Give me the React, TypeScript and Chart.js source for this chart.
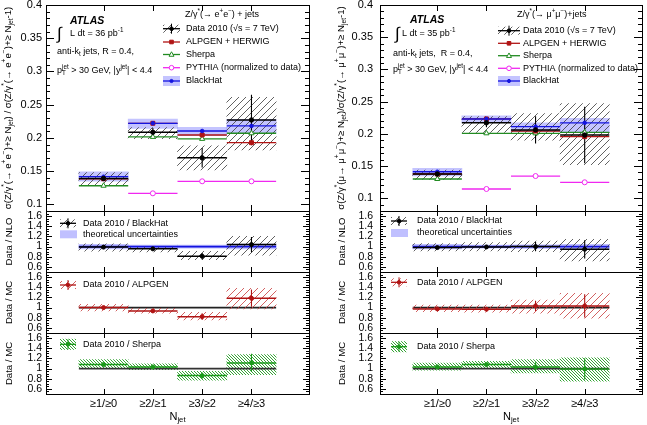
import React, { useEffect, useRef } from "react";
import { Chart, registerables } from "chart.js";
Chart.register(...registerables);

const W = 647;
const H = 425;
const FAMILY = '"Liberation Sans", Arial, Helvetica, sans-serif';

// ---------- categories and tick labels ----------
const BINS = ["≥1/≥0", "≥2/≥1", "≥3/≥2", "≥4/≥3"];
const MAIN_TICKS = [0.1, 0.15, 0.2, 0.25, 0.3, 0.35, 0.4];
const MAIN_TICK_LABELS = ["0.1", "0.15", "0.2", "0.25", "0.3", "0.35", "0.4"];
const RATIO_TICKS = [0.6, 0.8, 1, 1.2, 1.4, 1.6];
const RATIO_TICK_LABELS = ["0.6", "0.8", "1", "1.2", "1.4", "1.6"];

// ---------- Z -> e+e- (left) ----------
const eeData = [0.139, 0.2085, 0.17, 0.227];
const eeStat = [0.003, 0.0065, 0.0147, 0.038];
const eeSystLo = [0.128, 0.199, 0.152, 0.182];
const eeSystHi = [0.148, 0.2155, 0.188, 0.261];
const eeAlpgen = [0.1385, 0.222, 0.2044, 0.1928];
const eeSherpa = [0.128, 0.2015, 0.1985, 0.207];
const eePythia = [null, 0.1166, 0.1347, 0.1347];
const eeBlackHat = [0.1416, 0.222, 0.2104, 0.218];
const eeBlackHatLo = [0.135, 0.2144, 0.2033, 0.207];
const eeBlackHatHi = [0.149, 0.2284, 0.216, 0.228];

const eeNlo = [0.99, 0.955, 0.81, 1.04];
const eeNloStat = [0.015, 0.03, 0.066, 0.15];
const eeNloSystLo = [0.908, 0.895, 0.743, 0.829];
const eeNloSystHi = [1.053, 0.987, 0.908, 1.204];
const eeTheo = [0.046, 0.032, 0.031, 0.048];

const eeAlp = [1.0, 0.934, 0.822, 1.184];
const eeAlpStat = [0.015, 0.03, 0.065, 0.17];
const eeAlpSystLo = [0.934, 0.888, 0.757, 0.974];
const eeAlpSystHi = [1.066, 0.987, 0.908, 1.38];

const eeShp = [1.079, 1.033, 0.862, 1.112];
const eeShpStat = [0.015, 0.02, 0.06, 0.18];
const eeShpSystLo = [1.0, 0.98, 0.77, 0.882];
const eeShpSystHi = [1.178, 1.092, 0.947, 1.276];

// ---------- Z -> mu+mu- (right) ----------
const mmData = [0.1375, 0.217, 0.206, 0.198];
const mmStat = [0.003, 0.007, 0.021, 0.044];
const mmSystLo = [0.129, 0.202, 0.19, 0.152];
const mmSystHi = [0.1435, 0.2265, 0.2315, 0.247];
const mmAlpgen = [0.1375, 0.223, 0.2042, 0.1955];
const mmSherpa = [0.1297, 0.2007, 0.2007, 0.2022];
const mmPythia = [null, 0.1142, 0.1343, 0.1246];
const mmBlackHat = [0.141, 0.2229, 0.211, 0.217];
const mmBlackHatLo = [0.1343, 0.2171, 0.2031, 0.203];
const mmBlackHatHi = [0.1463, 0.228, 0.2171, 0.224];

const mmNlo = [0.98, 0.993, 1.0, 0.947];
const mmNloStat = [0.015, 0.03, 0.09, 0.18];
const mmNloSystLo = [0.914, 0.914, 0.9, 0.717];
const mmNloSystHi = [1.06, 1.08, 1.11, 1.145];
const mmTheo = [0.045, 0.03, 0.035, 0.045];

const mmAlp = [0.974, 0.967, 1.033, 1.033];
const mmAlpStat = [0.015, 0.03, 0.1, 0.23];
const mmAlpSystLo = [0.92, 0.91, 0.89, 0.79];
const mmAlpSystHi = [1.05, 1.05, 1.15, 1.28];

const mmShp = [1.033, 1.079, 1.033, 0.993];
const mmShpStat = [0.015, 0.03, 0.09, 0.21];
const mmShpSystLo = [0.967, 1.0, 0.914, 0.75];
const mmShpSystHi = [1.11, 1.145, 1.178, 1.21];

const ONE = [1, 1, 1, 1];

// ---------- styles ----------
const C_ALP = "#b01414";
const C_SHP = "#228b22";
const C_SHP_R = "#1a9a1a";
const C_PYT = "#f028f0";
const C_BH = "#1414e0";
const C_BAND = "rgba(100,100,255,0.38)";
const C_THEO = "rgba(150,150,255,0.6)";

type Pats = { black: any; red: any; green: any };

function hatch(color: string, size: number, dir: string, lw: number) {
  const c = document.createElement("canvas");
  c.width = size;
  c.height = size;
  const g = c.getContext("2d")!;
  g.strokeStyle = color;
  g.lineWidth = lw;
  g.beginPath();
  if (dir === "/") {
    g.moveTo(-1, size + 1);
    g.lineTo(size + 1, -1);
    g.moveTo(-1, 1);
    g.lineTo(1, -1);
    g.moveTo(size - 1, size + 1);
    g.lineTo(size + 1, size - 1);
  } else {
    g.moveTo(-1, -1);
    g.lineTo(size + 1, size + 1);
    g.moveTo(size - 1, -1);
    g.lineTo(size + 1, 1);
    g.moveTo(-1, size - 1);
    g.lineTo(1, size + 1);
  }
  g.stroke();
  return g.createPattern(c, "repeat");
}

function makePatterns(): Pats {
  return {
    black: hatch("#3a3a3a", 7, "/", 0.8),
    red: hatch("#c83a3a", 7, "/", 0.8),
    green: hatch("#1f9a1f", 3, "\\", 0.9),
  };
}

// ---------- dataset helpers ----------
function segs(vals: (number | null)[]) {
  const pts: any[] = [];
  vals.forEach((v, i) => {
    if (v == null) return;
    pts.push({ x: i - 0.5, y: v }, { x: i + 0.5, y: v }, { x: i + 0.5, y: null });
  });
  return pts;
}
function vbars(vals: number[], err: number[]) {
  const pts: any[] = [];
  vals.forEach((v, i) => {
    pts.push({ x: i, y: v - err[i] }, { x: i, y: v + err[i] }, { x: i, y: null });
  });
  return pts;
}
function bar(lo: number[], hi: number[], bg: any) {
  return {
    type: "bar",
    data: lo.map((l, i) => ({ x: i, y: [l, hi[i]] })),
    backgroundColor: bg,
    borderWidth: 0,
    grouped: false,
    barPercentage: 1,
    categoryPercentage: 1,
  };
}
function band(center: number[], half: number[], bg: any) {
  return bar(
    center.map((c, i) => c - half[i]),
    center.map((c, i) => c + half[i]),
    bg
  );
}
function line(data: any[], color: string, w: number) {
  return {
    type: "line",
    data,
    borderColor: color,
    borderWidth: w,
    pointRadius: 0,
    pointHitRadius: 0,
    fill: false,
    tension: 0,
    spanGaps: false,
  };
}
function pts(vals: (number | null)[], style: string, r: number, stroke: string, fill: string) {
  return {
    type: "line",
    data: vals.map((v, i) => (v == null ? null : { x: i, y: v })).filter(Boolean),
    showLine: false,
    pointStyle: style,
    pointRadius: r,
    pointBorderWidth: 1,
    pointBorderColor: stroke,
    pointBackgroundColor: fill,
    pointHitRadius: 0,
  };
}

// ---------- text helpers ----------
type Seg = [string, string?, string?];
function fontStr(size: number, weight = "normal", style = "normal") {
  return `${style} ${weight} ${size}px ${FAMILY}`;
}
function rich(ctx: CanvasRenderingContext2D, x: number, y: number, sg: Seg[], size: number, o: any = {}) {
  ctx.save();
  ctx.translate(x, y);
  if (o.rot) ctx.rotate(o.rot);
  ctx.textBaseline = "middle";
  ctx.textAlign = "left";
  ctx.fillStyle = o.color || "#000";
  const parts = sg.map(([t, m, t2]) => {
    const s = m ? size * 0.7 : size;
    ctx.font = fontStr(s, o.weight, o.style);
    let w = ctx.measureText(t).width;
    if (t2) w = Math.max(w, ctx.measureText(t2).width);
    return { t, m, t2, s, w };
  });
  const total = parts.reduce((a, p) => a + p.w, 0);
  let cx = o.align === "center" ? -total / 2 : o.align === "right" ? -total : 0;
  for (const p of parts) {
    ctx.font = fontStr(p.s, o.weight, o.style);
    if (p.m === "^") {
      ctx.fillText(p.t, cx, -size * 0.38);
      if (p.t2) ctx.fillText(p.t2, cx, size * 0.3);
    } else if (p.m === "_") {
      ctx.fillText(p.t, cx, size * 0.3);
    } else {
      ctx.fillText(p.t, cx, 0);
    }
    cx += p.w;
  }
  ctx.restore();
}

function hl(ctx: CanvasRenderingContext2D, x0: number, x1: number, y: number, c: string, w: number) {
  ctx.strokeStyle = c;
  ctx.lineWidth = w;
  ctx.beginPath();
  ctx.moveTo(x0, y);
  ctx.lineTo(x1, y);
  ctx.stroke();
}
function vl(ctx: CanvasRenderingContext2D, x: number, y0: number, y1: number, c: string, w: number) {
  ctx.strokeStyle = c;
  ctx.lineWidth = w;
  ctx.beginPath();
  ctx.moveTo(x, y0);
  ctx.lineTo(x, y1);
  ctx.stroke();
}
function mk(ctx: CanvasRenderingContext2D, style: string, x: number, y: number, r: number, stroke: string, fill: string) {
  ctx.beginPath();
  if (style === "circle") ctx.arc(x, y, r, 0, Math.PI * 2);
  else if (style === "rect") ctx.rect(x - r, y - r, 2 * r, 2 * r);
  else {
    ctx.moveTo(x, y - r * 1.1);
    ctx.lineTo(x + r, y + r * 0.7);
    ctx.lineTo(x - r, y + r * 0.7);
    ctx.closePath();
  }
  ctx.fillStyle = fill;
  ctx.fill();
  ctx.strokeStyle = stroke;
  ctx.lineWidth = 1;
  ctx.stroke();
}

function mainLegend(ctx: CanvasRenderingContext2D, pats: Pats, L: any) {
  rich(ctx, L.titleX, L.titleY, L.title, 9);
  const [r0, r1, r2, r3, r4] = L.rows;
  const mx = (L.x0 + L.x1) / 2;
  const w = L.x1 - L.x0;
  ctx.fillStyle = pats.black;
  ctx.fillRect(L.x0, r0 - 4, w, 8);
  hl(ctx, L.x0, L.x1, r0, "#000", 1.3);
  vl(ctx, mx, r0 - 5, r0 + 5, "#000", 1);
  mk(ctx, "circle", mx, r0, 1.8, "#000", "#000");
  rich(ctx, L.tx, r0, [["Data 2010 ("], ["√s = 7 TeV)"]], 9);
  hl(ctx, L.x0, L.x1, r1, C_ALP, 1.3);
  mk(ctx, "rect", mx, r1, 1.8, C_ALP, C_ALP);
  rich(ctx, L.tx, r1, [["ALPGEN + HERWIG"]], 9);
  hl(ctx, L.x0, L.x1, r2, C_SHP, 1.3);
  mk(ctx, "tri", mx, r2, 2.5, C_SHP, "#fff");
  rich(ctx, L.tx, r2, [["Sherpa"]], 9);
  hl(ctx, L.x0, L.x1, r3, C_PYT, 1.3);
  mk(ctx, "circle", mx, r3, 2.3, C_PYT, "#fff");
  rich(ctx, L.tx, r3, [["PYTHIA (normalized to data)"]], 9);
  ctx.fillStyle = C_BAND;
  ctx.fillRect(L.x0, r4 - 5, w, 10);
  hl(ctx, L.x0, L.x1, r4, C_BH, 1.3);
  mk(ctx, "circle", mx, r4, 1.6, C_BH, C_BH);
  rich(ctx, L.tx, r4, [["BlackHat"]], 9);
}

function innerText(ctx: CanvasRenderingContext2D, T: any) {
  rich(ctx, T.atlasX, T.atlasY, [["ATLAS"]], 10.5, { weight: "bold", style: "italic" });
  rich(ctx, T.intX, T.lumY, [["∫"]], 17);
  rich(ctx, T.lumX, T.lumY, [["L dt = " + T.lumi + " pb"], ["-1", "^"]], 9);
  rich(ctx, T.akX, T.akY, [["anti-k"], ["t", "_"], [T.akText]], 9);
  rich(ctx, T.akX, T.ptY, [["p"], ["jet", "^", "T"], [" > 30 GeV, |y"], ["jet", "^"], ["| < 4.4"]], 9);
}

function ratioLegend(ctx: CanvasRenderingContext2D, pats: Pats, kind: string, L: any) {
  const mx = (L.x0 + L.x1) / 2;
  const w = L.x1 - L.x0;
  const y = L.y;
  if (kind === "nlo") {
    ctx.fillStyle = pats.black;
    ctx.fillRect(L.x0, y - 4, w, 8);
    hl(ctx, L.x0, L.x1, y, "#000", 1.3);
    vl(ctx, mx, y - 5, y + 5, "#000", 1);
    mk(ctx, "circle", mx, y, 1.8, "#000", "#000");
    rich(ctx, L.tx, y, [["Data 2010 / BlackHat"]], 9);
    ctx.fillStyle = C_THEO;
    ctx.fillRect(L.x0, L.y2 - 4, w + 1, 8);
    rich(ctx, L.tx, L.y2, [["theoretical uncertainties"]], 9);
  } else if (kind === "alp") {
    ctx.fillStyle = pats.red;
    ctx.fillRect(L.x0, y - 4, w, 8);
    hl(ctx, L.x0, L.x1, y, C_ALP, 1.3);
    vl(ctx, mx, y - 5, y + 5, C_ALP, 1);
    mk(ctx, "circle", mx, y, 1.8, C_ALP, C_ALP);
    rich(ctx, L.tx, y, [["Data 2010 / ALPGEN"]], 9);
  } else {
    ctx.fillStyle = pats.green;
    ctx.fillRect(L.x0, y - 5.5, w, 11);
    hl(ctx, L.x0, L.x1, y, C_SHP_R, 1.3);
    vl(ctx, mx, y - 5, y + 5, C_SHP_R, 1);
    mk(ctx, "circle", mx, y, 1.8, C_SHP_R, C_SHP_R);
    rich(ctx, L.tx, y, [["Data 2010 / Sherpa"]], 9);
  }
}

// ---------- layout ----------
const COLS: any = {
  L: { left: 46, right: 309, yw: 46, yPad: 4 },
  R: { left: 380, right: 642, yw: 60, yPad: 7 },
};
const ROWS = [
  { top: 5, bottom: 211 },
  { top: 211, bottom: 272 },
  { top: 272, bottom: 333 },
  { top: 333, bottom: 394 },
];

function mainSets(d: any, pats: Pats) {
  return [
    bar(d.bhLo, d.bhHi, C_BAND),
    bar(d.lo, d.hi, pats.black),
    line(segs(d.pyt), C_PYT, 1.3),
    line(segs(d.shp), C_SHP, 1.3),
    line(segs(d.alp), C_ALP, 1.3),
    line(segs(d.bh), C_BH, 1.3),
    line(segs(d.data), "#000", 1.5),
    line(vbars(d.data, d.stat), "#000", 1.1),
    pts(d.pyt, "circle", 2.5, C_PYT, "#fff"),
    pts(d.shp, "triangle", 3, C_SHP, "#fff"),
    pts(d.alp, "rect", 2.8, C_ALP, C_ALP),
    pts(d.bh, "circle", 1.8, C_BH, C_BH),
    pts(d.data, "circle", 2.2, "#000", "#000"),
  ];
}
function nloSets(v: number[], st: number[], lo: number[], hi: number[], theo: number[], pats: Pats) {
  return [
    band(ONE, theo, C_THEO),
    line(segs(ONE), C_BH, 1.6),
    bar(lo, hi, pats.black),
    line(segs(v), "#000", 1.5),
    line(vbars(v, st), "#000", 1.1),
    pts(v, "circle", 2, "#000", "#000"),
  ];
}
function alpSets(v: number[], st: number[], lo: number[], hi: number[], pats: Pats) {
  return [
    line(segs(ONE), "#222", 1.6),
    bar(lo, hi, pats.red),
    line(segs(v), C_ALP, 1.5),
    line(vbars(v, st), C_ALP, 1.1),
    pts(v, "circle", 2, C_ALP, C_ALP),
  ];
}
function shpSets(v: number[], st: number[], lo: number[], hi: number[], pats: Pats) {
  return [
    bar(lo, hi, pats.green),
    line(segs(ONE), "#333", 1.6),
    line(segs(v), C_SHP_R, 1.5),
    line(vbars(v, st), C_SHP_R, 1.1),
    pts(v, "circle", 2, C_SHP_R, C_SHP_R),
  ];
}

const EE_TITLE: Seg[] = [
  ["σ(Z/γ"], ["*", "^"], ["(→ e"], ["+", "^"], ["e"], ["−", "^"], [")+≥ N"], ["jet", "_"],
  [") / σ(Z/γ"], ["*", "^"], ["(→ e"], ["+", "^"], ["e"], ["−", "^"], [")+≥ N"], ["jet", "_"], ["-1)"],
];
const MM_TITLE: Seg[] = [
  ["σ(Z/γ"], ["*", "^"], ["(μ→ μ"], ["+", "^"], ["μ"], ["−", "^"], [")+≥ N"], ["jet", "_"],
  [")/σ(Z/γ"], ["*", "^"], ["(→ μ"], ["+", "^"], ["μ"], ["−", "^"], [")+≥ N"], ["jet", "_"], ["-1)"],
];

const SPECS: any[] = [
  {
    col: "L", row: 0, yMin: 0.09, yMax: 0.4,
    sets: (p: Pats) => mainSets({ data: eeData, stat: eeStat, lo: eeSystLo, hi: eeSystHi, alp: eeAlpgen, shp: eeSherpa, pyt: eePythia, bh: eeBlackHat, bhLo: eeBlackHatLo, bhHi: eeBlackHatHi }, p),
    draw: (ctx: CanvasRenderingContext2D, p: Pats) => {
      rich(ctx, 8, 108, EE_TITLE, 9.6, { rot: -Math.PI / 2, align: "center" });
      innerText(ctx, { atlasX: 70, atlasY: 21, intX: 57, lumX: 70, lumY: 34, lumi: "36", akX: 57, akY: 52, akText: " jets, R = 0.4,", ptY: 71 });
      mainLegend(ctx, p, { title: [["Z/γ"], ["*", "^"], ["(→ e"], ["+", "^"], ["e"], ["−", "^"], [") + jets"]], titleX: 185, titleY: 15, x0: 163, x1: 180, tx: 186, rows: [28.7, 42, 54.5, 67.7, 81] });
    },
  },
  {
    col: "L", row: 1, yMin: 0.5, yMax: 1.7,
    sets: (p: Pats) => nloSets(eeNlo, eeNloStat, eeNloSystLo, eeNloSystHi, eeTheo, p),
    draw: (ctx: CanvasRenderingContext2D, p: Pats) => {
      rich(ctx, 9, 241.5, [["Data / NLO"]], 9.6, { rot: -Math.PI / 2, align: "center" });
      ratioLegend(ctx, p, "nlo", { x0: 60, x1: 76, tx: 83, y: 223.3, y2: 234.3 });
    },
  },
  {
    col: "L", row: 2, yMin: 0.5, yMax: 1.7,
    sets: (p: Pats) => alpSets(eeAlp, eeAlpStat, eeAlpSystLo, eeAlpSystHi, p),
    draw: (ctx: CanvasRenderingContext2D, p: Pats) => {
      rich(ctx, 9, 302.5, [["Data / MC"]], 9.6, { rot: -Math.PI / 2, align: "center" });
      ratioLegend(ctx, p, "alp", { x0: 60, x1: 76, tx: 83, y: 285 });
    },
  },
  {
    col: "L", row: 3, yMin: 0.5, yMax: 1.7,
    sets: (p: Pats) => shpSets(eeShp, eeShpStat, eeShpSystLo, eeShpSystHi, p),
    draw: (ctx: CanvasRenderingContext2D, p: Pats) => {
      rich(ctx, 9, 363.5, [["Data / MC"]], 9.6, { rot: -Math.PI / 2, align: "center" });
      ratioLegend(ctx, p, "shp", { x0: 60, x1: 76, tx: 83, y: 344.3 });
      rich(ctx, 177.5, 417, [["N"], ["jet", "_"]], 11, { align: "center" });
    },
  },
  {
    col: "R", row: 0, yMin: 0.08, yMax: 0.4,
    sets: (p: Pats) => mainSets({ data: mmData, stat: mmStat, lo: mmSystLo, hi: mmSystHi, alp: mmAlpgen, shp: mmSherpa, pyt: mmPythia, bh: mmBlackHat, bhLo: mmBlackHatLo, bhHi: mmBlackHatHi }, p),
    draw: (ctx: CanvasRenderingContext2D, p: Pats) => {
      rich(ctx, 341, 108, MM_TITLE, 9.6, { rot: -Math.PI / 2, align: "center" });
      innerText(ctx, { atlasX: 410, atlasY: 20, intX: 395, lumX: 402, lumY: 34, lumi: "35", akX: 393, akY: 54, akText: " jets,  R = 0.4,", ptY: 70 });
      mainLegend(ctx, p, { title: [["Z/γ"], ["*", "^"], ["(→ μ"], ["+", "^"], ["μ"], ["−", "^"], [")+jets"]], titleX: 517, titleY: 15, x0: 498, x1: 520, tx: 523, rows: [30.7, 43.3, 55.7, 68.3, 81] });
    },
  },
  {
    col: "R", row: 1, yMin: 0.5, yMax: 1.7,
    sets: (p: Pats) => nloSets(mmNlo, mmNloStat, mmNloSystLo, mmNloSystHi, mmTheo, p),
    draw: (ctx: CanvasRenderingContext2D, p: Pats) => {
      rich(ctx, 342, 241.5, [["Data / NLO"]], 9.6, { rot: -Math.PI / 2, align: "center" });
      ratioLegend(ctx, p, "nlo", { x0: 391, x1: 407, tx: 417, y: 221, y2: 233 });
    },
  },
  {
    col: "R", row: 2, yMin: 0.5, yMax: 1.7,
    sets: (p: Pats) => alpSets(mmAlp, mmAlpStat, mmAlpSystLo, mmAlpSystHi, p),
    draw: (ctx: CanvasRenderingContext2D, p: Pats) => {
      rich(ctx, 342, 302.5, [["Data / MC"]], 9.6, { rot: -Math.PI / 2, align: "center" });
      ratioLegend(ctx, p, "alp", { x0: 391, x1: 407, tx: 417, y: 282.3 });
    },
  },
  {
    col: "R", row: 3, yMin: 0.5, yMax: 1.7,
    sets: (p: Pats) => shpSets(mmShp, mmShpStat, mmShpSystLo, mmShpSystHi, p),
    draw: (ctx: CanvasRenderingContext2D, p: Pats) => {
      rich(ctx, 342, 363.5, [["Data / MC"]], 9.6, { rot: -Math.PI / 2, align: "center" });
      ratioLegend(ctx, p, "shp", { x0: 391, x1: 407, tx: 417, y: 346.7 });
      rich(ctx, 511, 417, [["N"], ["jet", "_"]], 11, { align: "center" });
    },
  },
];

function buildConfig(spec: any, pats: Pats) {
  const col = COLS[spec.col];
  const row = ROWS[spec.row];
  const isMain = spec.row === 0;
  const xh = spec.row === 3 ? 26 : 0;
  const yTicks = isMain ? MAIN_TICKS : RATIO_TICKS;
  const yLabels = isMain ? MAIN_TICK_LABELS : RATIO_TICK_LABELS;
  const minor = isMain ? 0.01 : 0.05;
  const majLen = isMain ? 8 : 6;
  const minLen = isMain ? 4 : 3;
  const xLen = isMain ? 6 : 5;
  const raw = spec.sets(pats);
  const datasets = raw.map((d: any, i: number) => ({ ...d, order: raw.length - i }));
  const decor = {
    id: "decor",
    afterDraw(chart: any) {
      const ctx: CanvasRenderingContext2D = chart.ctx;
      const a = chart.chartArea;
      const ys = chart.scales.y;
      const xs = chart.scales.x;
      ctx.save();
      ctx.strokeStyle = "#000";
      ctx.lineWidth = 1;
      ctx.beginPath();
      const n0 = Math.ceil(spec.yMin / minor - 1e-6);
      const n1 = Math.floor(spec.yMax / minor + 1e-6);
      for (let k = n0; k <= n1; k++) {
        const v = k * minor;
        const major = yTicks.some((t) => Math.abs(t - v) < 1e-6);
        const len = major ? majLen : minLen;
        const y = Math.round(ys.getPixelForValue(v)) + 0.5;
        ctx.moveTo(a.left, y);
        ctx.lineTo(a.left + len, y);
        ctx.moveTo(a.right, y);
        ctx.lineTo(a.right - len, y);
      }
      BINS.forEach((_, i) => {
        const x = Math.round(xs.getPixelForValue(i)) + 0.5;
        ctx.moveTo(x, a.top);
        ctx.lineTo(x, a.top + xLen);
        ctx.moveTo(x, a.bottom);
        ctx.lineTo(x, a.bottom - xLen);
      });
      ctx.stroke();
      ctx.strokeRect(a.left + 0.5, a.top + 0.5, a.right - a.left, a.bottom - a.top);
      spec.draw(ctx, pats);
      ctx.restore();
    },
  };
  return {
    type: "bar",
    data: { datasets },
    options: {
      animation: false,
      responsive: false,
      maintainAspectRatio: false,
      events: [],
      layout: {
        padding: { left: col.left - col.yw, right: W - col.right, top: row.top, bottom: H - row.bottom - xh },
      },
      plugins: { legend: { display: false }, tooltip: { enabled: false } },
      scales: {
        x: {
          type: "linear",
          min: -0.5,
          max: 3.5,
          grid: { display: false, drawTicks: false },
          border: { display: false },
          ticks: {
            display: xh > 0,
            autoSkip: false,
            maxRotation: 0,
            minRotation: 0,
            padding: 3,
            color: "#000",
            font: { family: FAMILY, size: 11 },
            callback: (v: any) => BINS[Math.round(v)] ?? "",
          },
          afterBuildTicks: (s: any) => {
            s.ticks = BINS.map((_, i) => ({ value: i }));
          },
          afterFit: (s: any) => {
            s.height = xh;
            s.paddingLeft = 0;
            s.paddingRight = 0;
          },
        },
        y: {
          type: "linear",
          min: spec.yMin,
          max: spec.yMax,
          grid: { display: false, drawTicks: false },
          border: { display: false },
          ticks: {
            autoSkip: false,
            padding: col.yPad,
            color: "#000",
            font: { family: FAMILY, size: isMain ? 11 : 10.5 },
            callback: (_v: any, i: number) => yLabels[i],
          },
          afterBuildTicks: (s: any) => {
            s.ticks = yTicks.map((v) => ({ value: v }));
          },
          afterFit: (s: any) => {
            s.width = col.yw;
            s.paddingTop = 0;
            s.paddingBottom = 0;
          },
        },
      },
    },
    plugins: [decor],
  };
}

function Panel({ spec }: { spec: any }) {
  const ref = useRef<HTMLCanvasElement>(null);
  useEffect(() => {
    const pats = makePatterns();
    const chart = new Chart(ref.current as HTMLCanvasElement, buildConfig(spec, pats) as any);
    return () => chart.destroy();
  }, [spec]);
  return <canvas ref={ref} width={W} height={H} style={{ position: "absolute", left: 0, top: 0, width: W, height: H }} />;
}

export default function App() {
  return (
    <div style={{ position: "fixed", left: 0, top: 0, width: W, height: H, background: "#fff", overflow: "hidden" }}>
      {SPECS.map((s, i) => (
        <Panel key={i} spec={s} />
      ))}
    </div>
  );
}
